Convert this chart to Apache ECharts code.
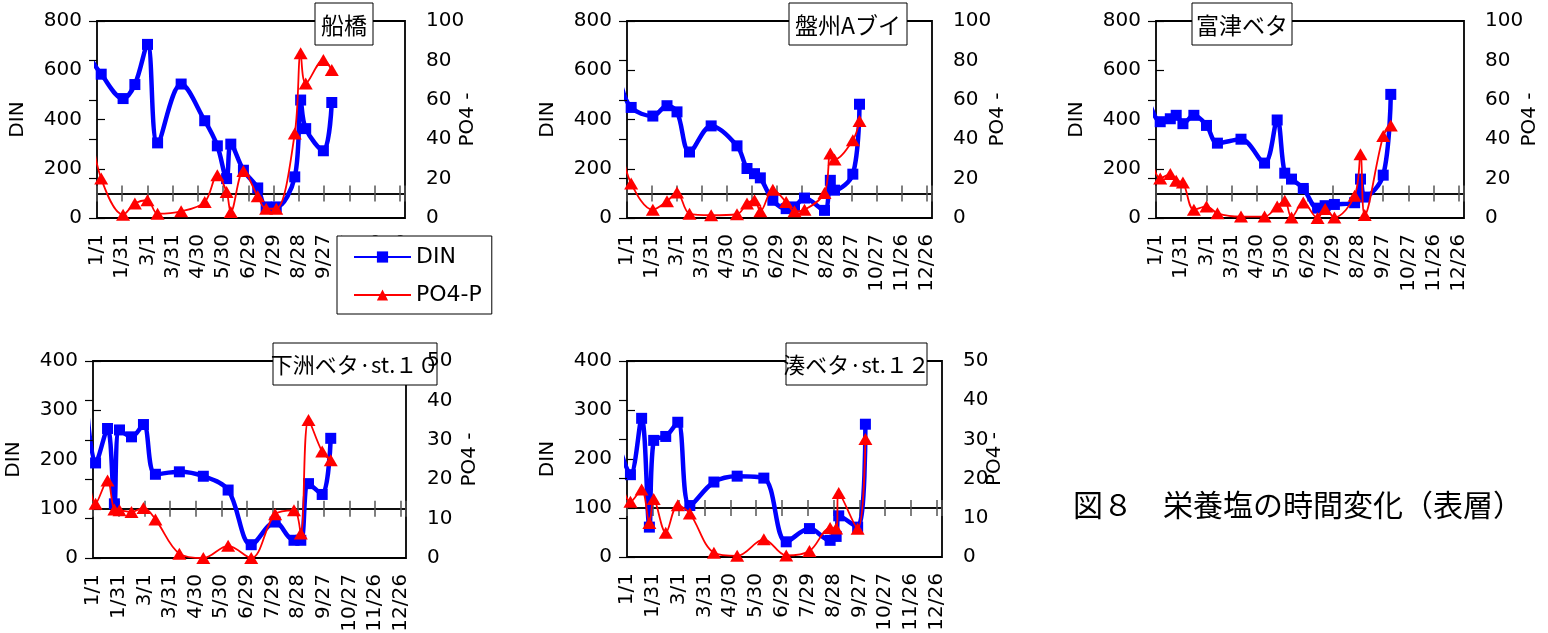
<!DOCTYPE html>
<html><head><meta charset="utf-8">
<script src="https://cdn.jsdelivr.net/npm/echarts@6/dist/echarts.min.js"></script>
<style>html,body{margin:0;padding:0;background:#fff}#c{width:1548px;height:633px}</style>
</head><body><div id="c"></div>
<script>
// ---- tick labels (every 30 days from 1/1, leap year) ----
const tickLabels = ['1/1','1/31','3/1','3/31','4/30','5/30','6/29','7/29','8/28','9/27','10/27','11/26','12/26'];
const stationNames = ['船橋','盤州Aブイ','富津ベタ','下洲ベタ·st.１０','湊ベタ·st.１２'];
const seriesNames = ['DIN','PO4-P'];
const caption = '図８　栄養塩の時間変化（表層）';

// ---- 船橋 ----
const dates1 = ['2003/12/24','1/6','2/1','2/15','3/1','3/13','4/10','5/8','5/23','6/3','6/8','6/23','7/10','7/20','8/1','8/23','8/30','9/5','9/26','10/6'];
const din1  = [650,584,485,542,705,305,544,395,293,160,300,194,122,45,45,167,479,363,273,469];
const po4_1 = [48,20,1.7,7.3,9,2.2,3.4,8.1,21.7,13.2,3.1,23.9,11,4.7,4.7,42.9,83.6,68.3,80.2,75.1];

// ---- 盤州Aブイ ----
const dates2 = ['2003/12/25','1/6','2/1','2/18','3/1','3/16','4/11','5/12','5/24','6/2','6/9','6/24','7/10','7/20','8/1','8/25','9/1','9/6','9/28','10/6'];
const din2  = [540,449,414,456,431,268,374,293,201,180,163,72,38,45,81,31,153,113,178,462];
const po4_2 = [36,17.5,4.2,8.5,12.9,2.2,1.4,1.9,7.3,9,3.4,14.4,8.1,3.4,4.2,12.7,32.7,29.7,39.5,49.3];

// ---- 富津ベタ ----
const dates3 = ['2003/12/24','1/6','1/18','1/25','2/2','2/15','3/1','3/14','4/11','5/9','5/24','6/2','6/10','6/24','7/11','7/20','7/31','8/24','8/31','9/5','9/27','10/6'];
const din3  = [472,391,403,417,383,417,376,304,320,223,398,182,158,120,40,50,55,62,158,85,174,502];
const po4_3 = [34.6,20.1,22.3,18.9,18,4.2,5.9,2.4,0.7,0.7,5.9,8.8,0.3,7.9,0,4.6,0.3,11.3,32.4,1.5,41.6,47];

// ---- 下洲ベタ st.10 ----
const dates4 = ['2003/12/24','1/4','1/18','1/26','2/1','2/15','2/29','3/14','4/11','5/9','6/7','7/4','8/1','8/23','8/31','9/9','9/25','10/5'];
const din4  = [324,193,263,110,260,246,271,170,175,166,138,27,73,36,36,151,129,243];
const po4_4 = [26,13.8,19.7,12.3,12.1,11.7,12.7,9.8,1.1,0,3.1,0,11.1,12.1,6.2,35,27,24.8];

// ---- 湊ベタ st.12 ----
const dates5 = ['2003/12/24','1/5','1/18','1/27','2/1','2/15','2/29','3/14','4/11','5/8','6/8','7/4','7/31','8/24','8/31','9/3','9/25','10/4'];
const din5  = [219,168,283,61,238,246,275,105,153,165,161,31,58,34,42,84,61,271];
const po4_5 = [20.2,14.1,17.2,8.7,14.8,6.2,13.2,11.1,1.1,0.3,4.5,0.4,1.5,7.4,7.3,16.3,7.2,30.1];

const dinMax = [800,800,800,400,400];
const po4Max = [100,100,100,50,50];
const crossAt = 100;   // DIN value where the date axis crosses

// ---- layout (positions only) ----
const layout = [
  {left:97,  top:21,  width:308, height:197, box:[315,3,58,42],   rGap:53, fs:23},
  {left:627, top:21,  width:305, height:197, box:[789,3,118,42],  rGap:56, fs:23},
  {left:1156,top:21,  width:308, height:197, box:[1192,3,100,42], rGap:56, fs:23},
  {left:93,  top:361, width:313, height:197, box:[273,343,164,42],rGap:54, fs:22},
  {left:627, top:361, width:315, height:196, box:[786,343,141,42],rGap:43, fs:22}
];

function dayOf(s){
  const p = s.split('/').map(Number);
  const y = p.length === 3 ? p[0] : 2004;
  const m = p[p.length-2], d = p[p.length-1];
  return Math.round((Date.UTC(y,m-1,d) - Date.UTC(2004,0,1)) / 864e5);
}

const panels = [
  {dates:dates1, din:din1, po4:po4_1},
  {dates:dates2, din:din2, po4:po4_2},
  {dates:dates3, din:din3, po4:po4_3},
  {dates:dates4, din:din4, po4:po4_4},
  {dates:dates5, din:din5, po4:po4_5}
];

const FONT = 'DejaVu Sans';
const JP = '"Noto Sans CJK JP"';
const grids = [], xAxes = [], yAxes = [], series = [], graphics = [];

panels.forEach((p, i) => {
  const L = layout[i];
  grids.push({left:L.left, top:L.top, width:L.width, height:L.height, show:true,
    borderColor:'#000', borderWidth:1.8, containLabel:false, outerBoundsMode:'none'});
  const xBase = {gridIndex:i, type:'value', position:'bottom', min:0, max:366, interval:30,
    splitLine:{show:false}};
  // label axis at bottom
  xAxes.push(Object.assign({}, xBase, {
    axisLine:{show:false}, axisTick:{show:false},
    axisLabel:{rotate:90, margin:16, fontSize:20, fontFamily:FONT, color:'#000',
      formatter: v => (v % 30 === 0 && tickLabels[v/30]) ? tickLabels[v/30] : ''}
  }));
  // crossing axis line (outward ticks)
  xAxes.push(Object.assign({}, xBase, {
    axisLine:{show:true, onZero:true, onZeroAxisIndex:3*i+2, lineStyle:{color:'#000', width:1.5}},
    axisTick:{show:true, inside:false, length:8, lineStyle:{color:'#555', width:1.5}},
    axisLabel:{show:false}
  }));
  // crossing axis (inward ticks)
  xAxes.push(Object.assign({}, xBase, {
    axisLine:{show:true, onZero:true, onZeroAxisIndex:3*i+2, lineStyle:{color:'#000', width:1.5}},
    axisTick:{show:true, inside:true, length:8, lineStyle:{color:'#555', width:1.5}},
    axisLabel:{show:false}
  }));
  yAxes.push({gridIndex:i, type:'value', position:'left', min:0, max:dinMax[i], interval:dinMax[i]/4,
    axisLine:{show:false}, axisTick:{show:true, inside:true, length:8, lineStyle:{color:'#000', width:1.2}},
    splitLine:{show:false},
    axisLabel:{fontSize:20, fontFamily:FONT, color:'#000', margin:15},
    name:'DIN', nameLocation:'middle', nameGap:69, nameRotate:90, nameMoveOverlap:false,
    nameTextStyle:{fontSize:20, fontFamily:FONT, color:'#000'}});
  yAxes.push({gridIndex:i, type:'value', position:'right', min:0, max:po4Max[i], interval:po4Max[i]/5,
    axisLine:{show:false}, axisTick:{show:true, inside:true, length:8, lineStyle:{color:'#000', width:1.2}},
    splitLine:{show:false}, z:10,
    axisLabel:{fontSize:20, fontFamily:FONT, color:'#000', margin:21},
    name:'PO4 -', nameLocation:'middle', nameGap:L.rGap, nameRotate:90, nameMoveOverlap:false,
    nameTextStyle:{fontSize:20, fontFamily:FONT, color:'#000'}});
  yAxes.push({gridIndex:i, type:'value', show:false, min:-crossAt, max:dinMax[i]-crossAt});

  const mk = arr => p.dates.map((d, k) => k === 0
      ? {value:[dayOf(d), arr[k]], symbol:'none'}
      : [dayOf(d), arr[k]]);
  series.push({name:seriesNames[0], type:'line', xAxisIndex:3*i, yAxisIndex:3*i,
    data:mk(p.din), smooth:0.35, clip:false, symbol:'rect', symbolSize:11,
    lineStyle:{color:'#0000ff', width:4.5}, itemStyle:{color:'#0000ff'}, z:2});
  series.push({name:seriesNames[1], type:'line', xAxisIndex:3*i, yAxisIndex:3*i+1,
    data:mk(p.po4), smooth:0.35, clip:false, symbol:'triangle', symbolSize:[14,12],
    lineStyle:{color:'#ff0000', width:1.8}, itemStyle:{color:'#ff0000'}, z:3});

  const b = L.box;
  graphics.push({type:'rect', shape:{x:b[0], y:b[1], width:b[2], height:b[3]},
    style:{fill:'#fff', stroke:'#000', lineWidth:1}, z:5});
  graphics.push({type:'text', x:b[0]+b[2]/2, y:b[1]+b[3]/2 + 1, z:6,
    style:{text:stationNames[i], font:L.fs + 'px ' + JP, fill:'#000',
      textAlign:'center', textVerticalAlign:'middle', verticalAlign:'middle'}});
});

graphics.push({type:'text', x:1073, y:505, z:6,
  style:{text:caption, font:'30px ' + JP, fill:'#000', textAlign:'left',
    textVerticalAlign:'middle', verticalAlign:'middle'}});

const chart = echarts.init(document.getElementById('c'), null, {renderer:'canvas'});
chart.setOption({
  animation:false,
  backgroundColor:'#fff',
  grid:grids, xAxis:xAxes, yAxis:yAxes, series:series,
  legend:{data:seriesNames, orient:'vertical', left:337, top:236, padding:[10,10,8,16],
    itemWidth:57, itemHeight:14, itemGap:16, backgroundColor:'#fff', borderColor:'#000', borderWidth:1,
    textStyle:{fontSize:22, fontFamily:FONT, color:'#000'}, z:20},
  graphic:{elements:graphics}
});
</script></body></html>
